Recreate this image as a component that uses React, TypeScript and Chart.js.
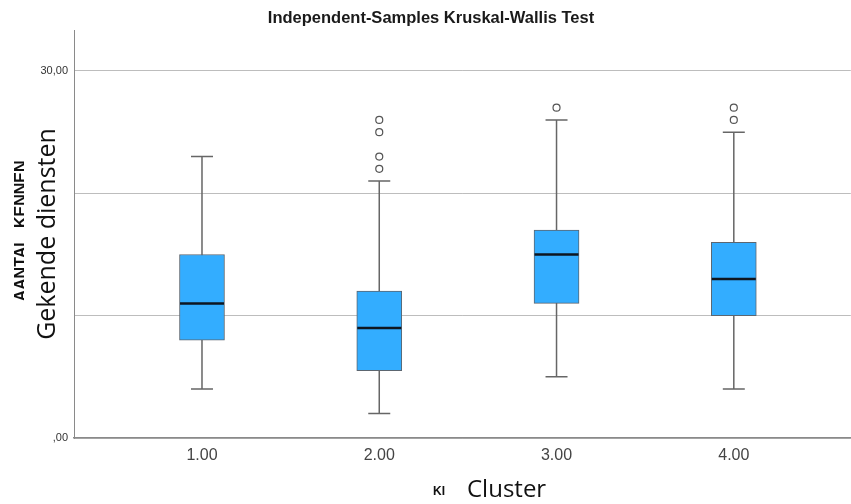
import React, { useEffect, useRef } from "react";
import { Chart, registerables } from "chart.js";

Chart.register(...registerables);

// ---- data ----
const clusters = [1, 2, 3, 4];
const clusterLabels = ["1.00", "2.00", "3.00", "4.00"];
const whiskerLow = [4, 2, 5, 4];
const q1 = [8, 5.5, 11, 10];
const medians = [11, 9, 15, 13];
const q3 = [15, 12, 17, 16];
const whiskerHigh = [23, 21, 26, 25];
const outlierCluster = [2, 2, 2, 2, 3, 4, 4];
const outlierValues = [22, 23, 25, 26, 27, 26, 27];
const yTicks = [0, 10, 20, 30];
const yTickLabels = [",00", "", "", "30,00"];

const titleText = "Independent-Samples Kruskal-Wallis Test";
const yAxisVarName = "AANTAL_KENNEN";
const yAxisTitle = "Gekende diensten";
const xAxisVarName = "KI";
const xAxisTitle = "Cluster";

const boxPlugin = {
  id: "boxExtras",
  beforeDatasetsDraw(chart: any) {
    const { ctx, scales } = chart;
    const x = scales.x;
    const y = scales.y;
    const capHalf = 11;
    ctx.save();
    ctx.strokeStyle = "#666666";
    ctx.lineWidth = 1.5;
    clusters.forEach((c, i) => {
      const px = x.getPixelForValue(c);
      const yl = y.getPixelForValue(whiskerLow[i]);
      const yh = y.getPixelForValue(whiskerHigh[i]);
      ctx.beginPath();
      ctx.moveTo(px, yl);
      ctx.lineTo(px, yh);
      ctx.moveTo(px - capHalf, yl);
      ctx.lineTo(px + capHalf, yl);
      ctx.moveTo(px - capHalf, yh);
      ctx.lineTo(px + capHalf, yh);
      ctx.stroke();
    });
    ctx.restore();
  },
  afterDatasetsDraw(chart: any) {
    const { ctx, scales } = chart;
    const y = scales.y;
    const meta = chart.getDatasetMeta(0);
    ctx.save();
    ctx.strokeStyle = "#0e1620";
    ctx.lineWidth = 2.5;
    meta.data.forEach((el: any, i: number) => {
      const my = y.getPixelForValue(medians[i]);
      ctx.beginPath();
      ctx.moveTo(el.x - el.width / 2 + 0.5, my);
      ctx.lineTo(el.x + el.width / 2 - 0.5, my);
      ctx.stroke();
    });
    ctx.restore();
  },
  afterDraw(chart: any) {
    const { ctx } = chart;
    ctx.save();
    // title
    ctx.fillStyle = "#1a1a1a";
    ctx.font = "bold 16.5px Arial, 'Liberation Sans', sans-serif";
    ctx.textAlign = "center";
    ctx.textBaseline = "middle";
    ctx.fillText(titleText, 431, 18.5);

    // partially hidden variable name (y)
    ctx.save();
    ctx.beginPath();
    ctx.rect(0, 0, 24, 504);
    ctx.clip();
    ctx.translate(26, 231);
    ctx.rotate(-Math.PI / 2);
    ctx.font = "bold 16px Arial, 'Liberation Sans', sans-serif";
    ctx.textAlign = "center";
    ctx.textBaseline = "alphabetic";
    ctx.fillStyle = "#111";
    ctx.fillText(yAxisVarName, 0, 0);
    ctx.restore();

    // y axis title
    ctx.save();
    ctx.translate(55, 234);
    ctx.rotate(-Math.PI / 2);
    ctx.font = "25px 'Open Sans', sans-serif";
    ctx.textAlign = "center";
    ctx.textBaseline = "alphabetic";
    ctx.fillStyle = "#111";
    ctx.fillText(yAxisTitle, 0, 0);
    ctx.restore();

    // x var name
    ctx.font = "bold 12px Arial, 'Liberation Sans', sans-serif";
    ctx.textAlign = "left";
    ctx.textBaseline = "alphabetic";
    ctx.fillStyle = "#111";
    ctx.fillText(xAxisVarName, 433, 495);

    // x axis title
    ctx.font = "24px 'Open Sans', sans-serif";
    ctx.fillText(xAxisTitle, 467, 497);
    ctx.restore();
  },
};

export default function App() {
  const canvasRef = useRef<HTMLCanvasElement | null>(null);

  useEffect(() => {
    const prevMargin = document.body.style.margin;
    document.body.style.margin = "0";
    const canvas = canvasRef.current;
    if (!canvas) return;
    const chart = new Chart(canvas, {
      type: "bar",
      data: {
        datasets: [
          {
            type: "bar",
            data: clusters.map((c, i) => ({ x: c, y: [q1[i], q3[i]] })) as any,
            backgroundColor: "#33adff",
            borderColor: "#5c6670",
            borderWidth: 1,
            borderSkipped: false,
            barThickness: 45,
          } as any,
          {
            type: "scatter",
            data: outlierCluster.map((c, i) => ({ x: c, y: outlierValues[i] })),
            pointRadius: 3.5,
            pointBackgroundColor: "#ffffff",
            pointBorderColor: "#555555",
            pointBorderWidth: 1.2,
            showLine: false,
          } as any,
        ],
      },
      options: {
        responsive: false,
        animation: false,
        devicePixelRatio: 1,
        layout: { padding: { top: 30, left: 0, right: 0, bottom: 0 } },
        plugins: {
          legend: { display: false },
          title: { display: false },
          tooltip: { enabled: false },
        },
        scales: {
          x: {
            type: "linear",
            min: 0.278,
            max: 4.66,
            offset: false,
            grid: { display: false, drawTicks: false },
            border: { display: true, color: "#8a8a8a", width: 1.5 },
            afterBuildTicks: (scale: any) => {
              scale.ticks = clusters.map((v) => ({ value: v }));
            },
            afterFit: (scale: any) => {
              scale.height = 66;
              scale.paddingLeft = 0;
              scale.paddingRight = 0;
            },
            ticks: {
              padding: 8,
              color: "#444",
              font: { family: "Arial, 'Liberation Sans', sans-serif", size: 16 },
              maxRotation: 0,
              autoSkip: false,
              callback: (v: any) => {
                const idx = clusters.indexOf(Number(v));
                return idx >= 0 ? clusterLabels[idx] : "";
              },
            },
          },
          y: {
            type: "linear",
            min: 0,
            max: 33.35,
            grid: { color: "#bdbdbd", drawTicks: false, lineWidth: 1 },
            border: { display: true, color: "#8a8a8a", width: 1 },
            afterBuildTicks: (scale: any) => {
              scale.ticks = yTicks.map((v) => ({ value: v }));
            },
            afterFit: (scale: any) => {
              scale.width = 74;
              scale.paddingTop = 0;
              scale.paddingBottom = 0;
            },
            ticks: {
              padding: 6,
              color: "#333",
              font: { family: "Arial, 'Liberation Sans', sans-serif", size: 11 },
              callback: (v: any) => {
                const idx = yTicks.indexOf(Number(v));
                return idx >= 0 ? yTickLabels[idx] : "";
              },
            },
          },
        },
      } as any,
      plugins: [boxPlugin],
    });
    return () => {
      chart.destroy();
      document.body.style.margin = prevMargin;
    };
  }, []);

  return (
    <div
      style={{
        position: "fixed",
        left: 0,
        top: 0,
        width: 851,
        height: 504,
        overflow: "hidden",
        background: "#fff",
      }}
    >
      <canvas ref={canvasRef} width={856} height={504} style={{ display: "block" }} />
    </div>
  );
}
